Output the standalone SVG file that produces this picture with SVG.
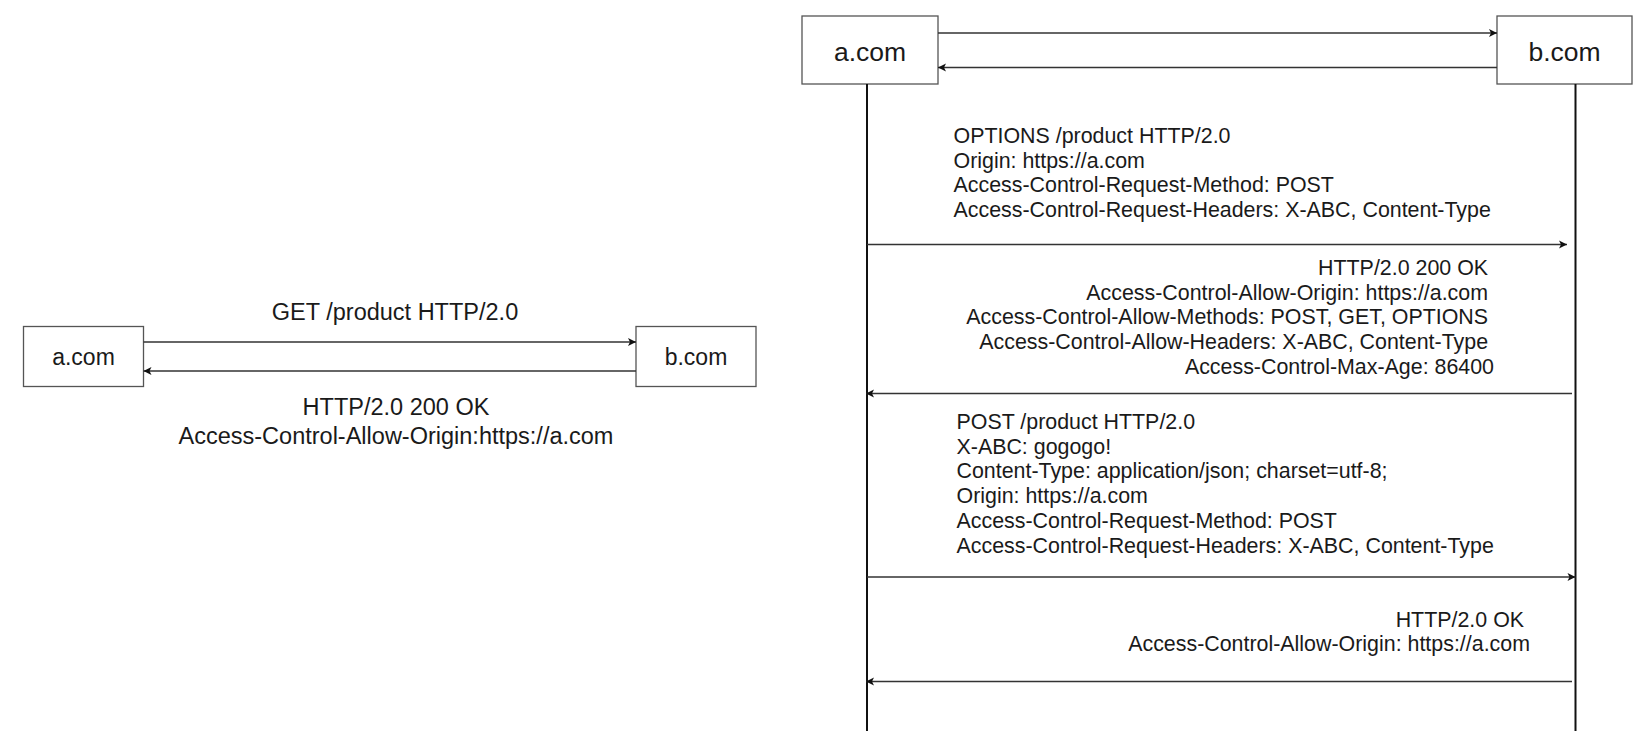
<svg xmlns="http://www.w3.org/2000/svg" width="1648" height="750" viewBox="0 0 1648 750">
  <style>
    .box { fill: #ffffff; stroke: #555555; stroke-width: 1.3; }
    .lbl { font-family: "Liberation Sans", Arial, sans-serif; fill: #1a1a1a; }
    .lblL { font-size: 23px; text-anchor: middle; }
    .lblR { font-size: 26.5px; text-anchor: middle; }
    .msgL { font-size: 23.5px; text-anchor: middle; }
    .msgR { font-size: 21.4px; }
    .arrow { stroke: #333333; stroke-width: 1.3; fill: none; marker-end: url(#ah); }
    .life { stroke: #111111; stroke-width: 2; fill: none; }
  </style>
  <defs>
    <marker id="ah" markerUnits="userSpaceOnUse" markerWidth="12" markerHeight="12" refX="9" refY="5" orient="auto">
      <path d="M1,1 L9,5 L1,9 L3,5 z" fill="#111111"/>
    </marker>
  </defs>
  <rect width="1648" height="750" fill="#ffffff"/>

  <!-- Left diagram -->
  <g id="left-a">
    <rect class="box" x="23.5" y="326.5" width="120" height="60"/>
    <text class="lbl lblL" x="83.5" y="365">a.com</text>
  </g>
  <g id="left-b">
    <rect class="box" x="636" y="326.5" width="120" height="60"/>
    <text class="lbl lblL" x="696" y="365">b.com</text>
  </g>

  <!-- Right diagram -->
  <g id="right-a">
    <rect class="box" x="802" y="16" width="136" height="68"/>
    <text class="lbl lblR" x="870" y="60.5">a.com</text>
  </g>
  <g id="right-b">
    <rect class="box" x="1497" y="16" width="135" height="68"/>
    <text class="lbl lblR" x="1564.5" y="60.5">b.com</text>
  </g>

  <g id="connectors">
    <!-- left -->
    <line class="arrow" x1="143.5" y1="342" x2="636" y2="342"/>
    <line class="arrow" x1="636" y1="371" x2="143.5" y2="371"/>
    <!-- right top -->
    <line class="arrow" x1="938" y1="33" x2="1497" y2="33"/>
    <line class="arrow" x1="1497" y1="67.5" x2="938" y2="67.5"/>
    <!-- lifelines -->
    <line class="life" x1="867" y1="84" x2="867" y2="731"/>
    <line class="life" x1="1575.5" y1="84" x2="1575.5" y2="731"/>
    <!-- messages -->
    <line class="arrow" x1="867" y1="244.5" x2="1567" y2="244.5"/>
    <line class="arrow" x1="1572" y1="393.5" x2="866" y2="393.5"/>
    <line class="arrow" x1="867" y1="577" x2="1575.5" y2="577"/>
    <line class="arrow" x1="1572" y1="681.5" x2="866" y2="681.5"/>
  </g>

  <g id="labels-left">
    <text class="lbl msgL" x="395" y="319.5">GET /product HTTP/2.0</text>
    <text class="lbl msgL" x="396" y="414.5">HTTP/2.0 200 OK</text>
    <text class="lbl msgL" x="396" y="444">Access-Control-Allow-Origin:https://a.com</text>
  </g>

  <g id="labels-right">
    <text class="lbl msgR" x="953.5">
      <tspan x="953.5" y="143.3">OPTIONS /product HTTP/2.0</tspan>
      <tspan x="953.5" y="167.8">Origin: https://a.com</tspan>
      <tspan x="953.5" y="192.3">Access-Control-Request-Method: POST</tspan>
      <tspan x="953.5" y="216.8">Access-Control-Request-Headers: X-ABC, Content-Type</tspan>
    </text>
    <text class="lbl msgR" text-anchor="end" x="1494">
      <tspan x="1494" y="275">HTTP/2.0 200 OK</tspan>
      <tspan x="1494" y="299.7">Access-Control-Allow-Origin: https://a.com</tspan>
      <tspan x="1494" y="324.4">Access-Control-Allow-Methods: POST, GET, OPTIONS</tspan>
      <tspan x="1494" y="349.1">Access-Control-Allow-Headers: X-ABC, Content-Type</tspan>
      <tspan x="1494" y="373.8">Access-Control-Max-Age: 86400</tspan>
    </text>
    <text class="lbl msgR" x="956.5">
      <tspan x="956.5" y="429">POST /product HTTP/2.0</tspan>
      <tspan x="956.5" y="453.7">X-ABC: gogogo!</tspan>
      <tspan x="956.5" y="478.4">Content-Type: application/json; charset=utf-8;</tspan>
      <tspan x="956.5" y="503.1">Origin: https://a.com</tspan>
      <tspan x="956.5" y="527.8">Access-Control-Request-Method: POST</tspan>
      <tspan x="956.5" y="552.5">Access-Control-Request-Headers: X-ABC, Content-Type</tspan>
    </text>
    <text class="lbl msgR" text-anchor="end" x="1530">
      <tspan x="1530" y="626.5">HTTP/2.0 OK</tspan>
      <tspan x="1530" y="651.2">Access-Control-Allow-Origin: https://a.com</tspan>
    </text>
  </g>
</svg>
